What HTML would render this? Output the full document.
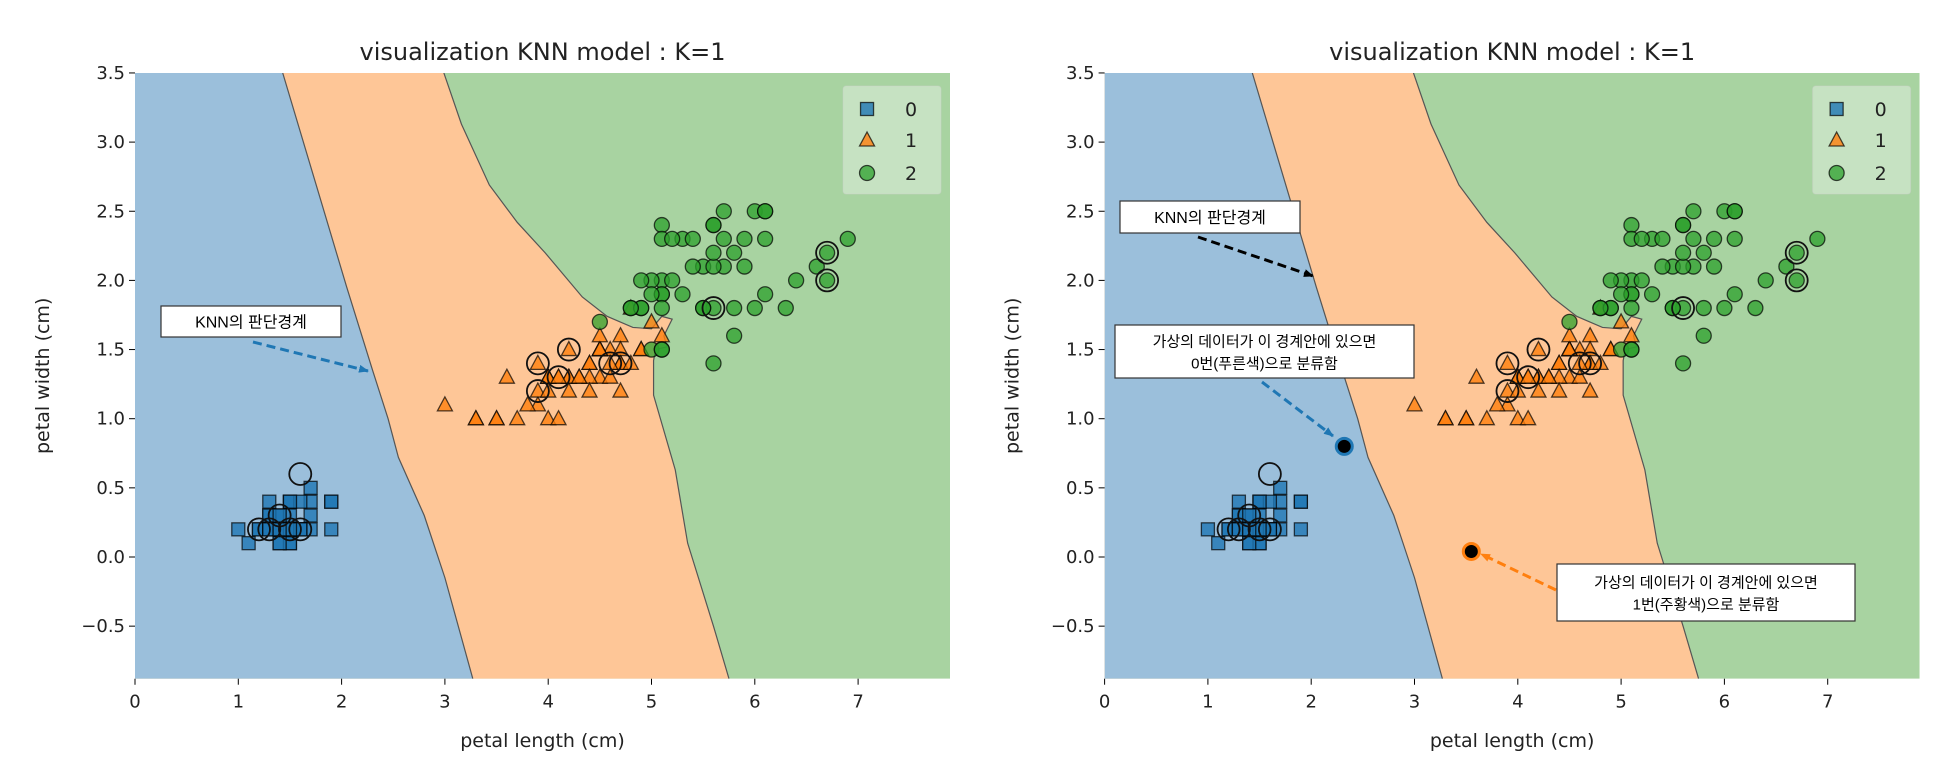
<!DOCTYPE html>
<html><head><meta charset="utf-8"><style>
body{margin:0;background:#fff;}
svg text{font-family:"DejaVu Sans","Liberation Sans","Noto Sans CJK KR",sans-serif;}
.ann{font-family:"Liberation Sans","Noto Sans CJK KR",sans-serif;}
</style></head><body>
<svg id="chart" width="1936" height="778" xmlns="http://www.w3.org/2000/svg"></svg>
<script>
const setosa=[[1.4,.2],[1.4,.2],[1.3,.2],[1.5,.2],[1.4,.2],[1.7,.4],[1.4,.3],[1.5,.2],[1.4,.2],[1.5,.1],[1.5,.2],[1.6,.2],[1.4,.1],[1.1,.1],[1.2,.2],[1.5,.4],[1.3,.4],[1.4,.3],[1.7,.3],[1.5,.3],[1.7,.2],[1.5,.4],[1.0,.2],[1.7,.5],[1.9,.2],[1.6,.2],[1.6,.4],[1.5,.2],[1.4,.2],[1.6,.2],[1.6,.2],[1.5,.4],[1.5,.1],[1.4,.2],[1.5,.2],[1.2,.2],[1.3,.2],[1.4,.1],[1.3,.2],[1.5,.2],[1.3,.3],[1.3,.3],[1.3,.2],[1.9,.4],[1.4,.3],[1.6,.2],[1.4,.2],[1.5,.2],[1.4,.2],[1.9,.4]];
const versicolor=[[4.7,1.4],[4.5,1.5],[4.9,1.5],[4.0,1.3],[4.6,1.5],[4.5,1.3],[4.7,1.6],[3.3,1.0],[4.6,1.3],[3.9,1.4],[3.5,1.0],[4.2,1.5],[4.0,1.0],[4.7,1.4],[3.6,1.3],[4.4,1.4],[4.5,1.5],[4.1,1.0],[4.5,1.5],[3.9,1.1],[4.8,1.8],[4.0,1.3],[4.9,1.5],[4.7,1.2],[4.3,1.3],[4.4,1.4],[4.8,1.4],[5.0,1.7],[4.5,1.5],[3.5,1.0],[3.8,1.1],[3.7,1.0],[3.9,1.2],[5.1,1.6],[4.5,1.5],[4.5,1.6],[4.7,1.5],[4.4,1.3],[4.1,1.3],[4.0,1.3],[4.4,1.2],[4.6,1.4],[4.0,1.2],[3.3,1.0],[4.2,1.3],[4.2,1.2],[4.2,1.3],[4.3,1.3],[3.0,1.1],[4.1,1.3]];
const virginica=[[6.0,2.5],[5.1,1.9],[5.9,2.1],[5.6,1.8],[5.8,2.2],[6.6,2.1],[4.5,1.7],[6.3,1.8],[5.8,1.8],[6.1,2.5],[5.1,2.0],[5.3,1.9],[5.5,2.1],[5.0,2.0],[5.1,2.4],[5.3,2.3],[5.5,1.8],[6.7,2.2],[6.9,2.3],[5.0,1.5],[5.7,2.3],[4.9,2.0],[6.7,2.0],[4.9,1.8],[5.7,2.1],[6.0,1.8],[4.8,1.8],[4.9,1.8],[5.6,2.1],[5.8,1.6],[6.1,1.9],[6.4,2.0],[5.6,2.2],[5.1,1.5],[5.6,1.4],[6.1,2.3],[5.6,2.4],[5.5,1.8],[4.8,1.8],[5.4,2.1],[5.6,2.4],[5.1,2.3],[5.1,1.9],[5.9,2.3],[5.7,2.5],[5.2,2.3],[5.0,1.9],[5.2,2.0],[5.4,2.3],[5.1,1.8],[6.1,2.5],[5.1,1.5]];
const testPts=[[1.2,0.2],[1.3,0.2],[1.4,0.3],[1.5,0.2],[1.6,0.2],[1.6,0.6],[3.9,1.4],[3.9,1.2],[4.1,1.3],[4.2,1.5],[4.6,1.4],[4.7,1.4],[5.6,1.8],[6.7,2.2],[6.7,2.0]];
const boundary01=[[1.43,3.5],[1.75,2.7],[2.05,1.95],[2.3,1.35],[2.45,1.0],[2.55,0.72],[2.8,0.3],[3.0,-0.15],[3.27,-0.88]];
const boundary12=[[2.99,3.5],[3.16,3.13],[3.43,2.69],[3.7,2.42],[3.97,2.2],[4.33,1.88],[4.57,1.74],[4.82,1.66],[5.0,1.65],[5.1,1.74],[5.2,1.72],[5.12,1.6],[5.15,1.52],[5.04,1.5],[5.02,1.42],[5.02,1.17],[5.23,0.63],[5.35,0.1],[5.6,-0.5],[5.75,-0.88]];
const xTicks=[0,1,2,3,4,5,6,7];
const yTicks=[-0.5,0,0.5,1.0,1.5,2.0,2.5,3.0,3.5];
const newPts=[[2.32,0.80],[3.55,0.04]];
const NS="http://www.w3.org/2000/svg";
const svg=document.getElementById('chart');
function mk(tag,attrs,parent){const e=document.createElementNS(NS,tag);for(const k in attrs)e.setAttribute(k,attrs[k]);(parent||svg).appendChild(e);return e;}
const X0=-0.0,X1=7.89,Y0=-0.88,Y1=3.5,UX=103.3,UY=138.3,TOP=73;
function plot(ox,id,right){
  const g=mk('g',{});
  
  
  const sx=v=>ox+v*UX, sy=v=>557-v*UY;
  const L=sx(X0),R=sx(X1),T=sy(Y1),B=sy(Y0);
  const cp=mk('clipPath',{id:'cp'+id},g);mk('rect',{x:L,y:T,width:R-L,height:B-T},cp);
  const reg=mk('g',{'clip-path':'url(#cp'+id+')'},g);
  const green=mk('rect',{x:L,y:T,width:R-L,height:B-T,fill:'#a8d3a1'},reg);
  
  const poly=(b,fill,name)=>{let d='M'+L+','+T;b.forEach(p=>d+=' L'+sx(p[0])+','+sy(p[1]));d+=' L'+L+','+B+' Z';
    const p=mk('path',{d:d,fill:fill},reg);
    let ld='';b.forEach((q,i)=>ld+=(i?' L':'M')+sx(q[0])+','+sy(q[1]));mk('path',{d:ld,fill:'none',stroke:'#555',"stroke-width":1.2},reg);};
  poly(boundary12,'#fec697','region-class-1');poly(boundary01,'#9bbfdb','region-class-0');
  const pg=mk('g',{},g);
  setosa.forEach(p=>{const r=mk('rect',{x:sx(p[0])-6.5,y:sy(p[1])-6.5,width:13,height:13,fill:'#1f77b4','fill-opacity':0.8,stroke:'#000','stroke-opacity':0.7,'stroke-width':1.3},pg);});
  versicolor.forEach(p=>{const x=sx(p[0]),y=sy(p[1]);const r=mk('path',{d:`M${x},${y-8} L${x+7.5},${y+6} L${x-7.5},${y+6} Z`,fill:'#ff7f0e','fill-opacity':0.8,stroke:'#000','stroke-opacity':0.7,'stroke-width':1.3},pg);});
  virginica.forEach(p=>{const r=mk('circle',{cx:sx(p[0]),cy:sy(p[1]),r:7.5,fill:'#2ca02c','fill-opacity':0.75,stroke:'#000','stroke-opacity':0.7,'stroke-width':1.3},pg);});
  testPts.forEach(p=>{const r=mk('circle',{cx:sx(p[0]),cy:sy(p[1]),r:11,fill:'none',stroke:'#111','stroke-width':1.8},pg);});
  xTicks.forEach(t=>{mk('line',{x1:sx(t),x2:sx(t),y1:B,y2:B+6,stroke:'#000'},g);const tx=mk('text',{x:sx(t),y:B+29,'font-size':18,'text-anchor':'middle',fill:'#222'},g);tx.textContent=t;});
  yTicks.forEach(t=>{mk('line',{x1:L-6,x2:L,y1:sy(t),y2:sy(t),stroke:'#000'},g);const tx=mk('text',{x:L-10,y:sy(t)+6,'font-size':18,'text-anchor':'end',fill:'#222'},g);tx.textContent=(t<0?'\u2212'+(-t).toFixed(1):t.toFixed(1));});
  const xl=mk('text',{x:(L+R)/2,y:747,'font-size':19,'text-anchor':'middle',fill:'#222'},g);xl.textContent='petal length (cm)';
  const yl=mk('text',{x:0,y:0,'font-size':19,'text-anchor':'middle',fill:'#222',transform:`translate(${L-86},${(T+B)/2}) rotate(-90)`},g);yl.textContent='petal width (cm)';
  const ti=mk('text',{x:(L+R)/2,y:60,'font-size':24,'text-anchor':'middle',fill:'#222'},g);ti.textContent='visualization KNN model : K=1';
  const lg=mk('g',{},g);
  mk('rect',{x:R-107,y:86,width:98,height:108,rx:3,fill:'#fff','fill-opacity':0.35,stroke:'#ccc','stroke-opacity':0.4},lg);
  const lx=R-83,ly=[109,140,173];
  mk('rect',{x:lx-6.5,y:ly[0]-6.5,width:13,height:13,fill:'#1f77b4','fill-opacity':0.8,stroke:'#000','stroke-opacity':0.7,'stroke-width':1.3},lg);
  mk('path',{d:`M${lx},${ly[1]-8} L${lx+7.5},${ly[1]+6} L${lx-7.5},${ly[1]+6} Z`,fill:'#ff7f0e','fill-opacity':0.8,stroke:'#000','stroke-opacity':0.7,'stroke-width':1.3},lg);
  mk('circle',{cx:lx,cy:ly[2],r:7.5,fill:'#2ca02c','fill-opacity':0.75,stroke:'#000','stroke-opacity':0.7,'stroke-width':1.3},lg);
  ['0','1','2'].forEach((s,i)=>{const t=mk('text',{x:lx+38,y:ly[i]+7,'font-size':19,fill:'#222'},lg);t.textContent=s;});
  if(right){newPts.forEach((p,i)=>{const c=mk('circle',{cx:sx(p[0]),cy:sy(p[1]),r:8,fill:'#000',stroke:i?'#ff7f0e':'#1f77b4','stroke-width':3},g);});}
}
plot(135,'left',false);
plot(1104.6,'right',true);
const defs=mk('defs',{});
[['ab','#1f77b4'],['ak','#000'],['ao','#ff7f0e']].forEach(a=>{const m=mk('marker',{id:a[0],markerWidth:10,markerHeight:8,refX:9,refY:4,orient:'auto',markerUnits:'userSpaceOnUse'},defs);mk('path',{d:'M0,0 L10,4 L0,8 Z',fill:a[1]},m);});
function arrow(x1,y1,x2,y2,col,mid,name){const l=mk('line',{x1,y1,x2,y2,stroke:col,'stroke-width':3,'stroke-dasharray':'9,5','marker-end':'url(#'+mid+')'});}
function box(x,y,w,h,lines,name){const g=mk('g',{});mk('rect',{x,y,width:w,height:h,fill:'#fff',stroke:'#333','stroke-width':1.2},g);
 lines.forEach((s,i)=>{const t=mk('text',{x:x+w/2,y:y+h/2+6+(i-(lines.length-1)/2)*22,'font-size':lines.length>1?15:16,'text-anchor':'middle',fill:'#000',class:'ann'},g);t.textContent=s;});}
arrow(253,342,368,371,'#1f77b4','ab','boundary-arrow-left');
box(161,306,180,31,['KNN의 판단경계'],'boundary-annotation-left');
arrow(1198,237,1313,276,'#000','ak','boundary-arrow-right');
box(1120,201,180,32,['KNN의 판단경계'],'boundary-annotation-right');
arrow(1262,382,1333,436,'#1f77b4','ab','class0-arrow');
box(1115,325,299,53,['가상의 데이터가 이 경계안에 있으면','0번(푸른색)으로 분류함'],'class0-annotation');
arrow(1556,590,1481,554,'#ff7f0e','ao','class1-arrow');
box(1557,564,298,57,['가상의 데이터가 이 경계안에 있으면','1번(주황색)으로 분류함'],'class1-annotation');
</script>
</body></html>
